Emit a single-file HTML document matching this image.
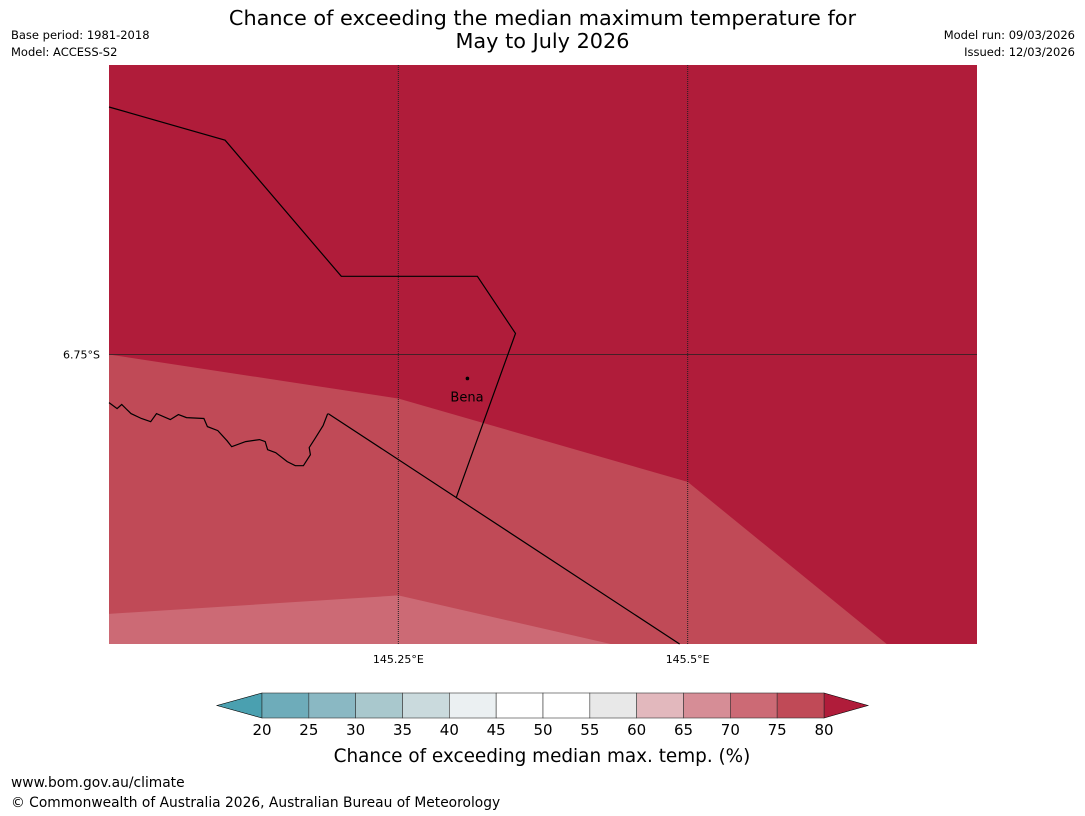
<!DOCTYPE html>
<html><head><meta charset="utf-8"><style>
body{margin:0;background:#fff;width:1085px;height:816px;overflow:hidden;font-family:"Liberation Sans","DejaVu Sans",sans-serif}
.t{position:absolute;color:#000}
</style></head><body>
<div class="t" style="left:0;width:1085px;top:7px;text-align:center;font-size:20.8px;line-height:23px;font-family:'DejaVu Sans',sans-serif">Chance of exceeding the median maximum temperature for<br>May to July 2026</div>
<div class="t" style="left:11px;top:27px;font-size:11.5px;line-height:17px;font-family:'DejaVu Sans',sans-serif">Base period: 1981-2018<br>Model: ACCESS-S2</div>
<div class="t" style="right:10px;top:27px;font-size:11.5px;line-height:17px;text-align:right;font-family:'DejaVu Sans',sans-serif">Model run: 09/03/2026<br>Issued: 12/03/2026</div>
<svg id="map" style="position:absolute;left:0;top:0" width="1085" height="816" font-family="DejaVu Sans, sans-serif"></svg>
<div class="t" style="left:11px;top:775px;font-size:13.8px;font-family:'DejaVu Sans',sans-serif">www.bom.gov.au/climate</div>
<div class="t" style="left:11px;top:795px;font-size:13.8px;font-family:'DejaVu Sans',sans-serif">© Commonwealth of Australia 2026, Australian Bureau of Meteorology</div>
<script>
const lonExtent=[145.0,145.75], latExtent=[-6.5,-7.0];
const lonTicks=[145.25,145.5], lonTickLabels=["145.25°E","145.5°E"];
const latTicks=[-6.75], latTickLabels=["6.75°S"];
const contour80=[[145.0,-6.75],[145.25,-6.788],[145.5,-6.86],[145.672,-7.0]];
const contour75=[[145.0,-6.974],[145.25,-6.958],[145.4335,-7.0]];
const boundaryA=[[145.0,-6.5363],[145.1003,-6.5649],[145.2007,-6.6825],[145.3183,-6.6825],[145.3512,-6.7318],[145.3,-6.8737]];
const boundaryB=[[145.1894,-6.801],[145.493,-7.0]];
const coast=[[145.0,-6.7915],[145.007,-6.7967],[145.011,-6.7932],[145.019,-6.801],[145.028,-6.8053],[145.036,-6.808],[145.041,-6.801],[145.053,-6.8062],[145.06,-6.8019],[145.067,-6.8045],[145.082,-6.8053],[145.085,-6.8123],[145.094,-6.8157],[145.102,-6.8244],[145.106,-6.8296],[145.118,-6.8252],[145.13,-6.8235],[145.135,-6.8252],[145.137,-6.8322],[145.144,-6.8348],[145.154,-6.8425],[145.161,-6.846],[145.168,-6.846],[145.174,-6.8365],[145.173,-6.8304],[145.178,-6.8226],[145.185,-6.8114],[145.189,-6.801]];
const towns=[{name:"Bena",lon:145.3097,lat:-6.7707}];
const cbLevels=[20,25,30,35,40,45,50,55,60,65,70,75,80];
const cbColors=["#6eacba","#8ab8c3","#a9c8cd","#cadadd","#ebf0f2","#ffffff","#ffffff","#e8e8e8","#e2b8bd","#d68d96","#cc6a75","#c04a57"];
const cbUnder="#4aa0b0", cbOver="#b01c3a";

const X0=109,X1=977,Y0=65,Y1=644;
const sx=l=>X0+(l-lonExtent[0])/(lonExtent[1]-lonExtent[0])*(X1-X0);
const sy=l=>Y0+(l-latExtent[0])/(latExtent[1]-latExtent[0])*(Y1-Y0);
const svg=document.getElementById('map');const NS="http://www.w3.org/2000/svg";
function mk(t,a,p){const e=document.createElementNS(NS,t);for(const k in a)e.setAttribute(k,a[k]);(p||svg).appendChild(e);return e;}
const pts=a=>a.map(p=>sx(p[0]).toFixed(1)+","+sy(p[1]).toFixed(1)).join(" ");
let e;
e=mk('rect',{x:X0,y:Y0,width:X1-X0,height:Y1-Y0,fill:cbOver});


e=mk('polygon',{points:pts(contour80)+" "+sx(lonExtent[0])+","+Y1,fill:"#c04a57"});


e=mk('polygon',{points:pts(contour75)+" "+sx(lonExtent[0])+","+Y1,fill:"#cc6a75"});


lonTicks.forEach((t,i)=>{
 e=mk('line',{x1:sx(t),x2:sx(t),y1:Y0,y2:Y1,stroke:"#222","stroke-width":1,"stroke-dasharray":"1,1"});
 
 
 e=mk('text',{x:sx(t),y:Y1+19,"font-size":11,"text-anchor":"middle"});e.textContent=lonTickLabels[i];
 
 
});
latTicks.forEach((t,i)=>{
 e=mk('line',{x1:X0,x2:X1,y1:sy(t),y2:sy(t),stroke:"#222","stroke-width":0.8});
 
 
 e=mk('text',{x:X0-9,y:sy(t)+4,"font-size":11,"text-anchor":"end"});e.textContent=latTickLabels[i];
 
 
});
[[boundaryA,'province-boundary'],[boundaryB,'province-boundary'],[coast,'river-coastline']].forEach(b=>{
 e=mk('polyline',{points:pts(b[0]),fill:"none",stroke:"#000","stroke-width":1.2});
 
 
});
towns.forEach(t=>{
 e=mk('circle',{cx:sx(t.lon),cy:sy(t.lat),r:1.8,fill:"#000"});
 
 
 e=mk('text',{x:sx(t.lon)-17,y:sy(t.lat)+23,"font-size":13});e.textContent=t.name;
 
 
});
const CX0=262,CX1=824,CY0=693,CY1=718;
const cx=v=>CX0+(v-cbLevels[0])/(cbLevels[cbLevels.length-1]-cbLevels[0])*(CX1-CX0);
const g=mk('g',{});


e=mk('polygon',{points:`${CX0},${CY0} ${CX0},${CY1} 217,${(CY0+CY1)/2}`,fill:cbUnder,stroke:"#000","stroke-width":0.6},g);


e=mk('polygon',{points:`${CX1},${CY0} ${CX1},${CY1} 868,${(CY0+CY1)/2}`,fill:cbOver,stroke:"#000","stroke-width":0.6},g);


cbColors.forEach((c,i)=>{
 e=mk('rect',{x:cx(cbLevels[i]),y:CY0,width:cx(cbLevels[i+1])-cx(cbLevels[i]),height:CY1-CY0,fill:c,stroke:"#333","stroke-width":0.6},g);
 
 
});
cbLevels.forEach(v=>{
 e=mk('text',{x:cx(v),y:735,"font-size":15,"text-anchor":"middle"},g);e.textContent=v;
 
 
});
e=mk('text',{x:542,y:762,"font-size":18.4,"text-anchor":"middle"},g);e.textContent="Chance of exceeding median max. temp. (%)";


</script>
</body></html>
